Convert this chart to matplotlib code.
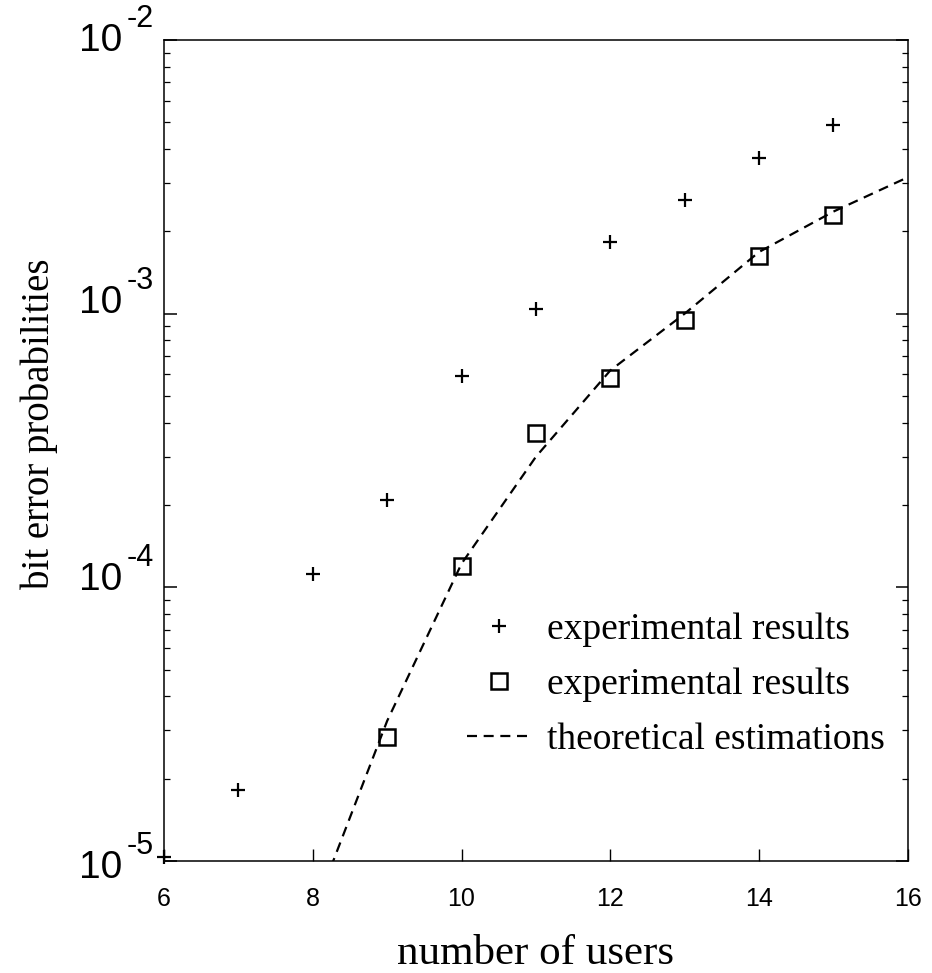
import numpy as np
import matplotlib
matplotlib.use("Agg")
import matplotlib.pyplot as plt
import matplotlib.transforms as mtransforms
from matplotlib.ticker import FixedLocator, LogLocator, NullFormatter

plt.rcParams["font.family"] = "Liberation Sans"

# data
users_plus = [6, 7, 8, 9, 10, 11, 12, 13, 14, 15]
ber_plus = [1.03e-5, 1.82e-5, 1.12e-4, 2.08e-4, 5.9e-4, 1.04e-3, 1.83e-3, 2.6e-3, 3.7e-3, 4.9e-3]

users_sq = [9, 10, 11, 12, 13, 14, 15]
ber_sq = [2.84e-5, 1.2e-4, 3.65e-4, 5.8e-4, 9.5e-4, 1.63e-3, 2.3e-3]

users_theory = [8, 9, 10, 11, 12, 13, 14, 15, 16]
ber_theory = [6.4e-6, 3.25e-5, 1.22e-4, 3.0e-4, 6.2e-4, 1.0e-3, 1.68e-3, 2.36e-3, 3.15e-3]

yticks = [1e-5, 1e-4, 1e-3, 1e-2]
ytick_exps = ["-5", "-4", "-3", "-2"]
xticks = [6, 8, 10, 12, 14, 16]

# the y labels in the original sit a bit unevenly (pixels, up = positive)
ylab_shift = [-4, 10, 14, 2]

fig = plt.figure(figsize=(9.32, 9.73), dpi=100)
ax = fig.add_axes([0.176, 0.1151, 0.798, 0.8438])

ax.plot(users_plus, ber_plus, "+", color="black", ms=10, mew=1.6,
        clip_on=False, label="experimental results")
ax.plot(users_sq, ber_sq, "s", color="black", mfc="none", ms=11, mew=1.8,
        label="experimental results")
ax.plot(users_theory, ber_theory, "--", color="black", lw=1.6, dashes=(4.5, 3),
        label="theoretical estimations")

ax.set_yscale("log")
ax.set_xlim(6, 16)
ax.set_ylim(1e-5, 1e-2)

ax.yaxis.set_major_locator(FixedLocator(yticks))
ax.yaxis.set_major_formatter(NullFormatter())
ax.yaxis.set_minor_locator(LogLocator(base=10, subs=np.arange(2, 10)))
ax.yaxis.set_minor_formatter(NullFormatter())
ax.set_xticks(xticks)
ax.set_xticklabels([str(v) for v in xticks])

ax.tick_params(axis="y", which="major", direction="in", left=True, right=True,
               length=9, width=1.1)
ax.tick_params(axis="y", which="minor", direction="in", left=True, right=True,
               length=4.5, width=0.9)
ax.tick_params(axis="x", which="major", direction="in", top=False, length=9,
               width=1.0, labelsize=18, pad=19)
for s in ax.spines.values():
    s.set_linewidth(1.1)

# "10" with a raised exponent, drawn as plain text next to each decade tick
trans = mtransforms.blended_transform_factory(ax.transAxes, ax.transData)
for t, e, dy in zip(yticks, ytick_exps, ylab_shift):
    ax.annotate("10", xy=(0, t), xycoords=trans, xytext=(-42, dy - 13),
                textcoords="offset pixels", ha="right", va="baseline",
                fontsize=28, annotation_clip=False)
    ax.annotate(e, xy=(0, t), xycoords=trans, xytext=(-37, dy + 11),
                textcoords="offset pixels", ha="left", va="baseline",
                fontsize=22, annotation_clip=False)

ax.set_xlabel("number of users", family="Liberation Serif", fontsize=31)
ax.xaxis.set_label_coords(0.5, -0.09)
ax.set_ylabel("bit error probabilities", family="Liberation Serif", fontsize=28)
ax.yaxis.set_label_coords(-0.1425, 0.532)

ax.legend(loc="upper left", bbox_to_anchor=(0.407, 0.303), frameon=False,
          borderaxespad=0, borderpad=0,
          prop={"family": "Liberation Serif", "size": 27}, numpoints=1,
          handlelength=1.7, handletextpad=0.45, labelspacing=0.55)

fig.savefig("out.png", dpi=100)
